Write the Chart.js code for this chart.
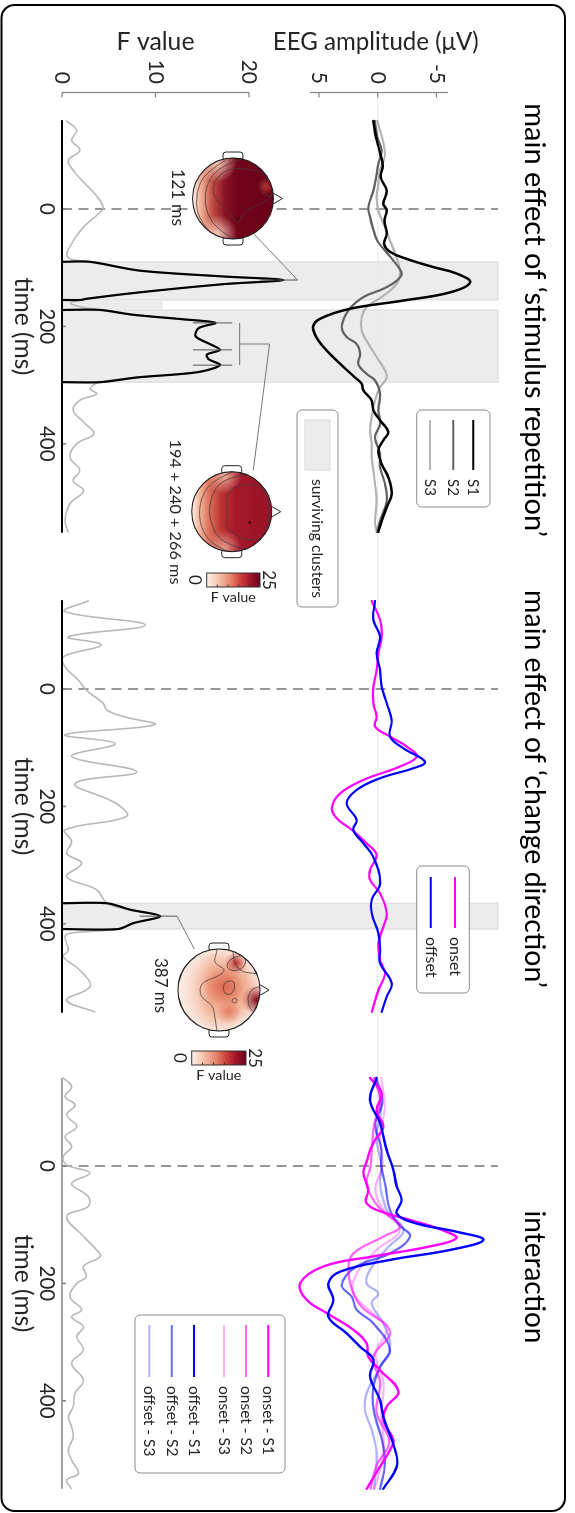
<!DOCTYPE html>
<html>
<head>
<meta charset="utf-8">
<title>EEG main effects and interaction</title>
<script src="https://cdn.jsdelivr.net/npm/chart.js@4"></script>
<style>
  html, body { margin: 0; padding: 0; width: 575px; height: 1513px; overflow: hidden; background: #fff; }
  /* the figure is laid out landscape and turned a quarter clockwise */
  #stage { position: absolute; left: 0; top: 0; width: 1513px; height: 575px;
           transform-origin: 0 0; transform: translate(575px, 0) rotate(90deg); }
  canvas { display: block; }
</style>
</head>
<body>
<div id="stage"><canvas id="fig" width="1513" height="575"></canvas></div>
<script>
// ---------------- data ----------------
const timeTicks = [0, 200, 400];
const eegTicks = [5, 0, -5];
const fTicks = [0, 10, 20];

// main effect of stimulus repetition: ERPs (µV)
const s1Time = [-150,-122,-100,-74,-54,-31,-9,2,20,42,59,73,85,99,110,125,142,156,170,187,201,224,247,269,287,298,309,326,343,360,380,394,411,434,457,485,508,531,550];
const s1Amp  = [0.37,0.14,-0.14,-0.43,-0.26,-0.77,-0.48,-0.77,-0.57,-0.77,-0.54,-1.05,-2.47,-4.74,-6.72,-7.86,-6.16,-2.18,2.35,4.9,5.5,5.05,4.06,2.92,1.93,1.36,1.22,0.51,0.37,-0.2,-0.9,-0.48,-0.06,-0.34,-0.9,-1.19,-0.77,-0.34,-0.06];
const s2Time = [-150,-122,-100,-77,-54,-31,-3,14,31,54,71,88,110,122,136,150,173,201,218,230,247,264,281,292,315,343,366,389,417,440,468,497,531,550];
const s2Amp  = [0.23,0.03,-0.34,-0.06,0.14,0.37,0.79,0.65,0.43,0.03,-0.62,-1.33,-2.04,-1.62,-0.48,1.22,2.5,3.06,2.64,1.79,1.5,1.65,0.94,0.23,-0.2,-0.06,-0.2,0.23,-0.2,-0.2,-0.62,-0.77,-0.2,0.03];
const s3Time = [-150,-94,-66,-43,-20,3,31,54,76,105,127,150,167,184,207,230,252,275,287,304,326,355,377,400,423,445,468,497,531,550];
const s3Amp  = [0.03,-0.62,-0.2,-0.06,0.09,-0.06,-0.62,-1.05,-1.48,-1.9,-1.62,-0.34,0.94,1.36,1.36,0.79,0.09,-0.62,-0.77,-0.2,0.23,0.51,0.65,0.51,0.51,0.37,0.23,0.09,0.23,0.09];
const repFTime = [-150,-134,-117,-100,-83,-66,-46,-26,-3,8,31,59,82,90,105,115,121,128,142,153,155,160,166,172,180,188,194,203,217,230,240,248,256,266,278,287,295,306,315,326,343,363,383,400,423,445,463,480,502,531,550];
const repF     = [0.5,1.57,1.03,1.93,0.68,1.2,2.28,3.5,4.4,3.9,2.28,1.03,0.6,3.0,8.3,17.3,23.7,17.3,8.3,2.6,2.0,0.9,1.8,4.1,7.5,13.0,16.4,14.6,14.3,15.8,16.9,15.5,15.7,16.9,14.5,8.0,4.1,3.0,3.7,1.9,1.2,2.3,3.4,1.57,0.86,1.9,1.2,2.3,0.86,0.32,0.68];

// main effect of change direction: ERPs (µV)
const onsetTime  = [-150,-118,-89,-61,-32,-4,24,47,64,81,98,115,132,155,178,203,220,240,263,283,308,325,348,382,405,433,462,484,513,550];
const onsetAmp   = [0.51,-0.2,-0.34,-0.06,0.09,0.37,0.37,0.09,0.23,-1.05,-2.47,-3.32,-1.9,1.22,3.2,3.9,3.5,2.2,0.94,0.09,0.65,0.65,-0.2,-0.77,-0.48,-0.06,-0.2,-0.62,-0.06,0.51];
const offsetTime = [-150,-118,-89,-61,-32,-4,24,53,81,101,124,135,152,172,195,223,240,263,286,331,359,382,416,445,467,501,524,550];
const offsetAmp  = [0.23,0.37,-0.2,0.09,-0.2,-0.34,-0.77,-1.19,-1.05,-2.18,-4.03,-3.04,-0.2,1.79,2.64,1.79,2.07,1.22,0.37,-0.2,0.51,0.51,-0.06,-0.2,-0.2,-1.19,-0.77,-0.34];
const dirFTime = [-150,-132,-109,-89,-75,-55,-38,-15,2,24,36,47,61,78,93,115,141,161,195,217,240,260,280,297,320,342,365,376,387,399,409,416,422,445,456,479,507,530,550];
const dirF     = [2.8,0.32,8.9,0.68,4.2,0.14,0.32,1.75,2.6,4.4,4.8,6.6,9.9,0.32,5.7,1.03,8.0,1.4,5.8,6.9,0.32,1.03,0.5,2.1,0.5,3.7,4.8,7.3,10.5,7.6,6.0,0.86,0.32,0.68,0.14,1.9,3.0,0.5,3.5];

// interaction: ERPs per condition (µV)
const onS1Time  = [-150,-124,-95,-67,-45,-27,-10,12,41,61,75,95,110,123,137,154,171,200,228,251,279,302,325,348,384,410,433,467,484,512,550];
const onS1Amp   = [0.65,-0.34,0.09,-0.48,0.2,0.65,0.9,1.22,0.8,1.0,0.09,-3.3,-5.6,-6.7,-4.45,0.37,4.6,6.6,6.04,4.3,2.07,0.94,0.8,-0.2,-1.76,-0.77,-0.48,-1.33,-1.05,-0.2,0.94];
const onS2Time  = [-150,-110,-70,-30,0,30,60,80,103,120,149,177,217,240,282,325,370,420,470,510,550];
const onS2Amp   = [0.3,-0.2,0.3,0.5,0.6,0.94,0.3,-0.6,-1.9,-0.5,2.07,2.5,2.07,1.36,-1.05,0.37,-0.2,0.1,-1.0,0.1,0.6];
const onS3Time  = [-150,-100,-50,0,40,75,109,143,183,217,257,279,320,370,420,470,510,550];
const onS3Amp   = [-0.3,-0.6,-0.2,-0.4,0.2,-0.5,-1.9,0.09,1.79,2.07,0.09,-0.77,0.2,-0.5,-0.3,-0.5,-0.3,0.3];
const offS1Time = [-150,-112,-73,-40,-27,7,35,58,81,98,112,126,143,160,180,200,228,257,285,308,330,359,399,427,484,512,550];
const offS1Amp  = [0.09,0.65,-0.2,-0.6,-0.77,-1.33,-1.62,-2.04,-1.62,-3.32,-6.7,-9.0,-6.16,-1.05,3.2,4.2,3.77,4.2,2.64,1.5,0.37,0.65,-0.2,-0.48,-1.48,-1.62,-0.48];
const offS2Time = [-150,-110,-70,-30,0,30,75,100,120,149,171,203,223,245,268,313,342,380,420,470,510,550];
const offS2Amp  = [0.1,-0.4,0.2,-0.3,-0.3,-0.62,-1.05,-1.8,-2.75,-1.05,1.79,3.06,2.2,1.79,0.37,-1.05,-0.2,0.4,0.3,-0.4,-0.6,-0.2];
const offS3Time = [-150,-100,-50,0,30,58,80,109,140,177,200,217,234,268,308,340,387,416,450,490,550];
const offS3Amp  = [0.2,-0.3,0.1,-0.3,-0.2,-0.48,-0.9,-2.2,-0.8,0.65,0.94,-0.06,0.51,-0.48,-1.05,-0.3,0.94,1.08,0.5,0.1,0.3];
const intFTime = [-150,-135,-118,-104,-87,-67,-50,-33,-16,-2,12,30,52,69,86,120,143,154,171,189,200,223,245,257,274,291,313,336,365,387,410,427,444,461,484,501,524,535,550];
const intF     = [0.14,1.03,0.32,1.4,0.5,1.57,0.32,1.03,0.14,0.5,3.0,1.03,2.8,2.8,0.5,2.3,3.7,4.1,2.3,2.6,1.57,0.86,2.1,1.03,2.3,1.57,2.3,1.03,2.3,1.4,1.2,0.68,1.03,1.2,0.68,1.03,1.75,0.5,1.03];

// surviving clusters (panel, start ms, end ms)
const clusterPanel = [1, 1, 2];
const clusterStart = [90, 172, 365];
const clusterEnd   = [155, 295, 409];

// topographies: time points shown and the F range of their markers
const topoPanel = [1, 1, 1, 1, 2];
const topoTime  = [121, 194, 240, 266, 387];
const topoLo    = [21.2, 14.0, 14.0, 14.0, 8.3];
const topoHi    = [25.2, 18.2, 18.2, 18.2, 12.3];
const colorbarMax = 25;

// ---------------- layout ----------------
const W = 1513, H = 575;
const MS_PX = 0.587;                   // pixels per millisecond
const ZERO_X = [209, 689, 1166];       // stimulus onset of each panel
const EEG_ZERO_Y = 197.3, EEG_PX = 11.75;
const F_ZERO_Y = 513, F_PX = 9.35;
const EEG_TOP = -10.24;                // upper end of onset markers and cluster bands
const T_FIRST = -150, T_LAST = 550;
const FONT = 'Lato, "Open Sans", sans-serif';

const pts = (t, v) => t.map((tt, i) => ({ x: tt, y: v[i] }));
function clusterPts(t, v, a, b) {
  const out = [{ x: a, y: 0 }];
  t.forEach((tt, i) => { if (tt >= a && tt <= b) out.push({ x: tt, y: v[i] }); });
  out.push({ x: b, y: 0 });
  return out;
}

const datasets = [];
function addLine(panel, yId, data, color, width, tension) {
  datasets.push({
    data, xAxisID: 'x' + panel, yAxisID: yId,
    borderColor: color, borderWidth: width, pointRadius: 0, fill: false,
    tension: tension === undefined ? 0.4 : tension,
    borderJoinStyle: 'round', borderCapStyle: 'round'
  });
}

// F traces (grey = all, black = significant)
addLine(1, 'yF', pts(repFTime, repF), '#b8b8b8', 1.6);
addLine(2, 'yF', pts(dirFTime, dirF), '#b8b8b8', 1.6);
addLine(3, 'yF', pts(intFTime, intF), '#b8b8b8', 1.6);
addLine(1, 'yF', [{ x: T_FIRST, y: 0 }, { x: T_LAST, y: 0 }], '#000', 2.2, 0);
addLine(2, 'yF', [{ x: T_FIRST, y: 0 }, { x: T_LAST, y: 0 }], '#000', 2.2, 0);
const fSeries = { 1: [repFTime, repF], 2: [dirFTime, dirF] };
clusterPanel.forEach((p, i) => {
  addLine(p, 'yF', clusterPts(fSeries[p][0], fSeries[p][1], clusterStart[i], clusterEnd[i]), '#000', 2.2, 0.3);
});

// ERPs
addLine(1, 'yE', pts(s3Time, s3Amp), '#b3b3b3', 2.2);
addLine(1, 'yE', pts(s2Time, s2Amp), '#616161', 2.2);
addLine(1, 'yE', pts(s1Time, s1Amp), '#000000', 2.5);
addLine(2, 'yE', pts(onsetTime, onsetAmp), '#ff00ff', 2.2);
addLine(2, 'yE', pts(offsetTime, offsetAmp), '#0000ff', 2.2);
const C3 = {
  on1: '#ff00ff', on2: 'rgba(255,0,255,0.6)', on3: 'rgba(255,0,255,0.3)',
  off1: '#0000ff', off2: 'rgba(0,0,255,0.6)', off3: 'rgba(0,0,255,0.3)'
};
addLine(3, 'yE', pts(offS3Time, offS3Amp), C3.off3, 2.2);
addLine(3, 'yE', pts(onS3Time, onS3Amp), C3.on3, 2.2);
addLine(3, 'yE', pts(offS2Time, offS2Amp), C3.off2, 2.2);
addLine(3, 'yE', pts(onS2Time, onS2Amp), C3.on2, 2.2);
addLine(3, 'yE', pts(onS1Time, onS1Amp), C3.on1, 2.4);
addLine(3, 'yE', pts(offS1Time, offS1Amp), C3.off1, 2.4);
datasets.forEach((d, i) => { d.order = datasets.length - i; });

// ---------------- drawing helpers ----------------
function rr(ctx, x, y, w, h, r) {
  ctx.beginPath();
  ctx.moveTo(x + r, y);
  ctx.arcTo(x + w, y, x + w, y + h, r);
  ctx.arcTo(x + w, y + h, x, y + h, r);
  ctx.arcTo(x, y + h, x, y, r);
  ctx.arcTo(x, y, x + w, y, r);
  ctx.closePath();
}
function smoothPath(ctx, p, closed) {
  const mid = (a, b) => [(a[0] + b[0]) / 2, (a[1] + b[1]) / 2];
  ctx.beginPath();
  if (closed) {
    const n = p.length, m0 = mid(p[n - 1], p[0]);
    ctx.moveTo(m0[0], m0[1]);
    for (let i = 0; i < n; i++) { const m = mid(p[i], p[(i + 1) % n]); ctx.quadraticCurveTo(p[i][0], p[i][1], m[0], m[1]); }
    ctx.closePath();
  } else {
    ctx.moveTo(p[0][0], p[0][1]);
    for (let i = 1; i < p.length - 1; i++) { const m = mid(p[i], p[i + 1]); ctx.quadraticCurveTo(p[i][0], p[i][1], m[0], m[1]); }
    ctx.lineTo(p[p.length - 1][0], p[p.length - 1][1]);
  }
}
function fitSize(ctx, text, width) {
  ctx.font = '100px ' + FONT;
  return 100 * width / ctx.measureText(text).width;
}
function text(ctx, s, x, y, size, align, base, color) {
  ctx.font = size.toFixed(2) + 'px ' + FONT;
  ctx.fillStyle = color || '#262626';
  ctx.textAlign = align || 'center';
  ctx.textBaseline = base || 'middle';
  ctx.fillText(s, x, y);
}
function vtext(ctx, s, x, y, size, color) {
  ctx.save(); ctx.translate(x, y); ctx.rotate(-Math.PI / 2);
  text(ctx, s, 0, 0, size, 'center', 'middle', color);
  ctx.restore();
}
function blob(ctx, x, y, r, inner, outer) {
  const g = ctx.createRadialGradient(x, y, 0, x, y, r);
  g.addColorStop(0, inner); g.addColorStop(1, outer);
  ctx.fillStyle = g; ctx.fillRect(x - r, y - r, 2 * r, 2 * r);
}
const rel = (cx, cy, list) => list.map(p => [cx + p[0], cy + p[1]]);

function drawHead(ctx, cx, cy, r, paint) {
  ctx.save();
  ctx.lineWidth = 1; ctx.strokeStyle = '#222'; ctx.fillStyle = '#fff';
  rr(ctx, cx - r - 6, cy - 10, 9, 20, 3); ctx.fill(); ctx.stroke();
  rr(ctx, cx + r - 3, cy - 10, 9, 20, 3); ctx.fill(); ctx.stroke();
  ctx.beginPath(); ctx.moveTo(cx - 7, cy - r + 3); ctx.lineTo(cx, cy - r - 9); ctx.lineTo(cx + 7, cy - r + 3);
  ctx.fill(); ctx.stroke();
  ctx.beginPath(); ctx.arc(cx, cy, r, 0, Math.PI * 2);
  ctx.save(); ctx.clip(); paint(ctx, cx, cy, r); ctx.restore();
  ctx.beginPath(); ctx.arc(cx, cy, r, 0, Math.PI * 2);
  ctx.strokeStyle = '#1a1a1a'; ctx.lineWidth = 1.1; ctx.stroke();
  ctx.restore();
}
function contours(ctx, cx, cy, shapes) {
  ctx.strokeStyle = 'rgba(70,60,60,0.85)'; ctx.lineWidth = 0.9;
  shapes.forEach(s => { smoothPath(ctx, rel(cx, cy, s.p), s.closed); ctx.stroke(); });
}
function paintEarly(ctx, cx, cy, r) {
  const g = ctx.createLinearGradient(0, cy - r, 0, cy + r);
  g.addColorStop(0, '#6a0018'); g.addColorStop(0.45, '#72041a'); g.addColorStop(0.6, '#8a1324');
  g.addColorStop(0.75, '#c04a40'); g.addColorStop(0.88, '#eda58a'); g.addColorStop(1, '#fdf0ea');
  ctx.fillStyle = g; ctx.fillRect(cx - r, cy - r, 2 * r, 2 * r);
  blob(ctx, cx - 36, cy + 16, 20, 'rgba(250,215,195,0.95)', 'rgba(250,215,195,0)');
  blob(ctx, cx + 36, cy + 16, 20, 'rgba(250,215,195,0.95)', 'rgba(250,215,195,0)');
  blob(ctx, cx - 12, cy - 33, 9, 'rgba(190,60,55,0.85)', 'rgba(190,60,55,0)');
  contours(ctx, cx, cy, [
    { closed: true, p: [[-21,-40],[-29,-22],[-31,5],[-17,20],[-1,20],[12,5],[27,-5],[12,-12],[6,-25],[-1,-40]] },
    { closed: true, p: [[-22,-39],[-20,-31],[-12,-28],[-3,-31],[-1,-40]] },
    { closed: false, p: [[-40,-10],[-33,12],[-16,26],[6,29],[25,21],[37,6],[41,-4]] },
    { closed: false, p: [[-38,8],[-26,28],[-6,37],[16,36],[33,24]] }
  ]);
  ctx.fillStyle = '#3a0a10'; ctx.beginPath(); ctx.arc(cx + 20, cy - 5, 1.4, 0, Math.PI * 2); ctx.fill();
}
function paintLate(ctx, cx, cy, r) {
  const g = ctx.createLinearGradient(0, cy - r, 0, cy + r);
  g.addColorStop(0, '#981226'); g.addColorStop(0.45, '#a6192b'); g.addColorStop(0.62, '#b9302f');
  g.addColorStop(0.78, '#dc6f58'); g.addColorStop(0.9, '#f3b69b'); g.addColorStop(1, '#fdeee6');
  ctx.fillStyle = g; ctx.fillRect(cx - r, cy - r, 2 * r, 2 * r);
  blob(ctx, cx - 36, cy + 8, 18, 'rgba(246,200,178,0.85)', 'rgba(246,200,178,0)');
  blob(ctx, cx + 36, cy + 8, 18, 'rgba(246,200,178,0.7)', 'rgba(246,200,178,0)');
  contours(ctx, cx, cy, [
    { closed: true, p: [[-26,-31],[-28,-12],[-22,3],[-8,6],[4,3],[13,7],[23,-2],[29,-16],[27,-32],[10,-37],[-12,-37]] },
    { closed: false, p: [[-39,-22],[-35,0],[-25,17],[0,24],[25,16],[35,-2],[39,-22]] },
    { closed: false, p: [[-41,-4],[-33,17],[-15,31],[10,33],[30,23],[41,2]] }
  ]);
  ctx.fillStyle = '#3a0a10'; ctx.beginPath(); ctx.arc(cx + 11, cy - 18, 1.4, 0, Math.PI * 2); ctx.fill();
}
function paintDirection(ctx, cx, cy, r) {
  const g = ctx.createRadialGradient(cx - 2, cy - 10, 3, cx, cy, r);
  g.addColorStop(0, '#e88a6d'); g.addColorStop(0.55, '#f2b59a'); g.addColorStop(1, '#fbe6dc');
  ctx.fillStyle = g; ctx.fillRect(cx - r, cy - r, 2 * r, 2 * r);
  const lg = ctx.createLinearGradient(0, cy + 10, 0, cy + r);
  lg.addColorStop(0, 'rgba(252,236,228,0)'); lg.addColorStop(1, 'rgba(252,236,228,0.9)');
  ctx.fillStyle = lg; ctx.fillRect(cx - r, cy, 2 * r, r);
  blob(ctx, cx - 4, cy - 4, 20, 'rgba(218,95,72,0.75)', 'rgba(218,95,72,0)');
  blob(ctx, cx + 22, cy - 10, 12, 'rgba(222,105,80,0.7)', 'rgba(222,105,80,0)');
  blob(ctx, cx - 27, cy - 17, 11, 'rgba(185,40,45,0.95)', 'rgba(200,60,55,0)');
  blob(ctx, cx + 10, cy - 38, 15, 'rgba(120,6,28,1)', 'rgba(165,28,40,0)');
  contours(ctx, cx, cy, [
    { closed: true, p: [[-4,-44],[-2,-33],[8,-28],[20,-31],[27,-41]] },
    { closed: true, p: [[-36,-26],[-31,-10],[-22,-7],[-18,-16],[-24,-27]] },
    { closed: true, p: [[-10,-15],[-8,-5],[2,-4],[6,-10],[0,-16]] },
    { closed: true, p: [[8,-18],[9,-13],[13,-13],[13,-18]] },
    { closed: false, p: [[-41,2],[-38,2],[-27,6],[-20,-8],[-13,2],[-7,19],[7,19],[15,6],[28,4],[41,2]] },
    { closed: false, p: [[-42,-14],[-27,-14],[-17,-24],[-17,-38],[-12,-44]] }
  ]);
}

// ---------------- figure plugin ----------------
const figure = {
  id: 'figure',
  beforeDraw(chart) {
    const ctx = chart.ctx;
    ctx.save(); ctx.fillStyle = '#fff'; ctx.fillRect(0, 0, W, H); ctx.restore();
  },
  beforeDatasetsDraw(chart) {
    const ctx = chart.ctx, s = chart.scales;
    const X = (p, t) => s['x' + p].getPixelForValue(t);
    const top = s.yE.getPixelForValue(EEG_TOP), base = s.yF.getPixelForValue(0);
    ctx.save();
    // cluster bands
    ctx.fillStyle = '#ececec'; ctx.strokeStyle = '#d9d9d9'; ctx.lineWidth = 1;
    clusterPanel.forEach((p, i) => {
      const a = X(p, clusterStart[i]), b = X(p, clusterEnd[i]);
      ctx.fillRect(a, top, b - a, base - top); ctx.strokeRect(a, top, b - a, base - top);
    });
    // band between the two repetition clusters inside the F plot
    {
      const a = X(1, clusterEnd[0]), b = X(1, clusterStart[1]), yTop = s.yF.getPixelForValue(10.8);
      ctx.fillRect(a, yTop, b - a, base - yTop);
    }
    // 0 µV reference
    ctx.strokeStyle = '#e9e9e9'; ctx.lineWidth = 1;
    const y0 = s.yE.getPixelForValue(0);
    ctx.beginPath(); ctx.moveTo(92, y0); ctx.lineTo(1495, y0); ctx.stroke();
    // stimulus onset
    ctx.strokeStyle = '#6b6b6b'; ctx.lineWidth = 1.4; ctx.setLineDash([10, 6.5]);
    [1, 2, 3].forEach(p => {
      const x = X(p, 0);
      ctx.beginPath(); ctx.moveTo(x, base); ctx.lineTo(x, top); ctx.stroke();
    });
    ctx.setLineDash([]);
    // time axes of the F plots
    ctx.strokeStyle = '#858585'; ctx.lineWidth = 1.6;
    [1, 2, 3].forEach(p => {
      ctx.beginPath(); ctx.moveTo(X(p, T_FIRST), base); ctx.lineTo(X(p, T_LAST), base); ctx.stroke();
      timeTicks.forEach(t => { ctx.beginPath(); ctx.moveTo(X(p, t), base); ctx.lineTo(X(p, t), base - 4); ctx.stroke(); });
    });
    ctx.restore();
  },
  afterDatasetsDraw(chart) {
    const ctx = chart.ctx, s = chart.scales;
    const X = (p, t) => s['x' + p].getPixelForValue(t);
    const YE = v => s.yE.getPixelForValue(v), YF = v => s.yF.getPixelForValue(v);
    ctx.save();

    // ---- axes of the first panel ----
    ctx.strokeStyle = '#808080'; ctx.lineWidth = 1.2;
    const AX = 92.5;
    ctx.beginPath(); ctx.moveTo(AX, YE(5.76)); ctx.lineTo(AX, YE(-6)); ctx.stroke();
    eegTicks.forEach(v => { ctx.beginPath(); ctx.moveTo(AX, YE(v)); ctx.lineTo(AX + 5, YE(v)); ctx.stroke(); });
    ctx.beginPath(); ctx.moveTo(AX, YF(0)); ctx.lineTo(AX, YF(20)); ctx.stroke();
    fTicks.forEach(v => { ctx.beginPath(); ctx.moveTo(AX, YF(v)); ctx.lineTo(AX + 5, YF(v)); ctx.stroke(); });
    eegTicks.forEach(v => text(ctx, String(v), 84, YE(v), 21, 'right', 'middle'));
    fTicks.forEach(v => text(ctx, String(v), 84, YF(v), 21, 'right', 'middle'));
    vtext(ctx, 'EEG amplitude (μV)', 42, YE(0) + 2, fitSize(ctx, 'EEG amplitude (μV)', 206));
    vtext(ctx, 'F value', 42, YF(10), fitSize(ctx, 'F value', 78));
    const tSize = fitSize(ctx, 'time (ms)', 98);
    [1, 2, 3].forEach(p => {
      timeTicks.forEach(t => text(ctx, String(t), X(p, t), 528.5, 20.5, 'center', 'middle'));
      text(ctx, 'time (ms)', X(p, 200), 552, tSize, 'center', 'middle');
    });

    // ---- titles ----
    const titles = ['main effect of ‘stimulus repetition’', 'main effect of ‘change direction’', 'interaction'];
    const titleX = [320, 789, 1277], titleW = [434, 398, 133];
    titles.forEach((t, i) => text(ctx, t, titleX[i], 50, fitSize(ctx, t, titleW[i]), 'center', 'alphabetic', '#000'));

    // ---- topography markers and leader lines ----
    ctx.strokeStyle = '#555'; ctx.lineWidth = 1;
    topoTime.forEach((t, i) => {
      const x = X(topoPanel[i], t);
      ctx.beginPath(); ctx.moveTo(x, YF(topoLo[i])); ctx.lineTo(x, YF(topoHi[i])); ctx.stroke();
    });
    ctx.strokeStyle = '#777';
    ctx.beginPath(); ctx.moveTo(X(1, topoTime[0]), YF(topoHi[0])); ctx.lineTo(233.3, 321.7); ctx.stroke();
    const bF = 19.0, midT = (topoTime[1] + topoTime[3]) / 2;
    ctx.beginPath(); ctx.moveTo(X(1, topoTime[1]), YF(bF)); ctx.lineTo(X(1, topoTime[3]), YF(bF)); ctx.stroke();
    ctx.beginPath(); ctx.moveTo(X(1, midT), YF(bF)); ctx.lineTo(X(1, midT), YF(22.2)); ctx.lineTo(470, 321.7); ctx.stroke();
    ctx.beginPath(); ctx.moveTo(X(2, topoTime[4]), YF(topoHi[4])); ctx.lineTo(949, 380.7); ctx.stroke();

    // ---- scalp maps ----
    drawHead(ctx, 198.5, 342, 40.5, paintEarly);
    drawHead(ctx, 511.7, 343.3, 40, paintLate);
    drawHead(ctx, 990, 356, 41, paintDirection);
    const l1 = topoTime[0] + ' ms';
    const l2 = topoTime.slice(1, 4).join(' + ') + ' ms';
    const l3 = topoTime[4] + ' ms';
    text(ctx, l1, 197.5, 403, fitSize(ctx, l1, 57), 'center', 'alphabetic');
    text(ctx, l2, 512, 405, fitSize(ctx, l2, 145), 'center', 'alphabetic');
    text(ctx, l3, 985.5, 420, fitSize(ctx, l3, 55), 'center', 'alphabetic');

    // ---- colour bars ----
    [[573, 587, 315, 368.3], [1051, 1065, 329, 383.3]].forEach(([x0, x1, yT, yB]) => {
      const g = ctx.createLinearGradient(0, yB, 0, yT);
      g.addColorStop(0, '#fdf1ea'); g.addColorStop(0.2, '#f7c9b1'); g.addColorStop(0.45, '#e6836a');
      g.addColorStop(0.65, '#c93a37'); g.addColorStop(0.82, '#a0152a'); g.addColorStop(1, '#67001f');
      ctx.fillStyle = g; ctx.fillRect(x0, yT, x1 - x0, yB - yT);
      ctx.strokeStyle = '#333'; ctx.lineWidth = 1; ctx.strokeRect(x0, yT, x1 - x0, yB - yT);
      [5, 10, 15, 20].forEach(v => {
        const y = yB - (yB - yT) * v / colorbarMax;
        ctx.beginPath(); ctx.moveTo(x1, y); ctx.lineTo(x1 - 2.5, y); ctx.stroke();
      });
      text(ctx, String(colorbarMax), (x0 + x1) / 2, yT - 3, 17, 'center', 'alphabetic');
      text(ctx, '0', (x0 + x1) / 2, yB + 4, 17, 'center', 'top');
      vtext(ctx, 'F value', x1 + 10, (yT + yB) / 2, fitSize(ctx, 'F value', 45));
    });

    // ---- legends ----
    function box(x0, y0, x1, y1) {
      rr(ctx, x0, y0, x1 - x0, y1 - y0, 5);
      ctx.fillStyle = '#fff'; ctx.fill(); ctx.strokeStyle = '#8c8c8c'; ctx.lineWidth = 1; ctx.stroke();
    }
    function entry(xa, xb, y, color, label, size, w) {
      ctx.strokeStyle = color; ctx.lineWidth = w || 2;
      ctx.beginPath(); ctx.moveTo(xa, y); ctx.lineTo(xb, y); ctx.stroke();
      text(ctx, label, xb + 9, y, size, 'left', 'middle');
    }
    box(410, 85, 507, 158.3);
    entry(420, 470, 101.7, '#000', 'S1', 15);
    entry(420, 470, 121.7, '#616161', 'S2', 15);
    entry(420, 470, 145, '#b3b3b3', 'S3', 15);
    box(410, 237, 607, 278);
    ctx.fillStyle = '#ececec'; ctx.fillRect(420, 245, 50, 25);
    ctx.strokeStyle = '#d9d9d9'; ctx.strokeRect(420, 245, 50, 25);
    text(ctx, 'surviving clusters', 479, 258, fitSize(ctx, 'surviving clusters', 119), 'left', 'middle');
    box(866, 105.7, 993, 158.3);
    entry(877, 928, 120, '#ff00ff', 'onset', 16);
    entry(877, 928, 144.3, '#0000ff', 'offset', 16);
    box(1315, 290, 1473, 440);
    const l3Labels = ['onset - S1', 'onset - S2', 'onset - S3', 'offset - S1', 'offset - S2', 'offset - S3'];
    const l3Colors = [C3.on1, C3.on2, C3.on3, C3.off1, C3.off2, C3.off3];
    const l3Y = [306.7, 329, 351, 381, 403.3, 425.7];
    l3Labels.forEach((l, i) => entry(1325, 1377, l3Y[i], l3Colors[i], l, 15.5));

    // ---- frame ----
    rr(ctx, 5, 10, 1506, 563.5, 13);
    ctx.strokeStyle = '#000'; ctx.lineWidth = 2; ctx.stroke();
    ctx.restore();
  }
};

const xScale = p => ({ type: 'linear', display: false, min: -ZERO_X[p] / MS_PX, max: (W - ZERO_X[p]) / MS_PX });

new Chart(document.getElementById('fig'), {
  type: 'line',
  data: { datasets },
  options: {
    responsive: false, animation: false, devicePixelRatio: 1, events: [],
    layout: { padding: 0, autoPadding: false },
    plugins: { legend: { display: false }, tooltip: { enabled: false }, title: { display: false } },
    scales: {
      x1: xScale(0), x2: xScale(1), x3: xScale(2),
      yE: { type: 'linear', display: false, reverse: true, min: -EEG_ZERO_Y / EEG_PX, max: (H - EEG_ZERO_Y) / EEG_PX },
      yF: { type: 'linear', display: false, min: -(H - F_ZERO_Y) / F_PX, max: F_ZERO_Y / F_PX }
    }
  },
  plugins: [figure]
});
</script>
</body>
</html>
